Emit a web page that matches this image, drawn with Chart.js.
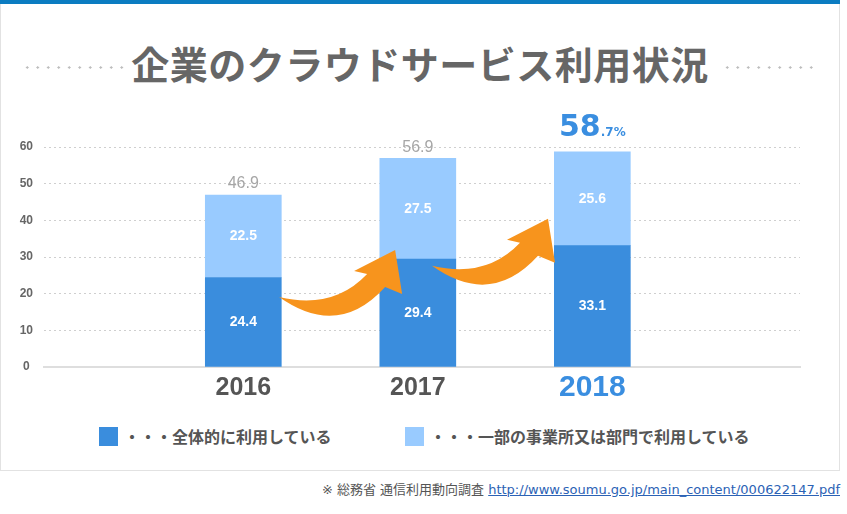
<!DOCTYPE html>
<html lang="ja">
<head>
<meta charset="utf-8">
<title>企業のクラウドサービス利用状況</title>
<script src="https://cdn.jsdelivr.net/npm/chart.js@4.4.1/dist/chart.umd.min.js"></script>
<style>
  body { margin: 0; background: #fff; font-family: "Noto Sans CJK JP", sans-serif; }
  #wrap { position: relative; width: 840px; height: 514px; }
  .topbar { height: 4px; background: #0b7cc1; }
  .panel { position: relative; height: 466px; border: 1px solid #e2e2e2; border-top: none; }
  .title { position: absolute; left: 0; right: 0; top: 40px; margin: 0; text-align: center;
           font-size: 38px; line-height: 38px; font-weight: bold; color: #666; letter-spacing: 0.5px; }
  .dots { position: absolute; top: 62px; height: 3px;
          background-image: radial-gradient(circle, #bdbdbd 1px, transparent 1.4px);
          background-size: 10.5px 3px; }
  #chartBox { position: absolute; left: 0; top: 96px; width: 838px; height: 310px; }
  .legend-item { position: absolute; top: 423px; display: flex; align-items: center;
                 font-size: 16px; line-height: 19px; font-weight: bold; color: #555; }
  .legend-item i { display: block; width: 19px; height: 19px; margin-right: 6px; }
  .note { position: absolute; right: 0; top: 481px; margin: 0; font-size: 13px; line-height: 18px;
          color: #555; font-family: "DejaVu Sans", "Noto Sans CJK JP", sans-serif; white-space: nowrap; }
  .note a { color: #2b62b5; text-decoration: underline; }
</style>
</head>
<body>
<div id="wrap">
  <div class="topbar"></div>
  <div class="panel">
    <div class="dots" style="left:21px; width:102px;"></div>
    <h1 class="title">企業のクラウドサービス利用状況</h1>
    <div class="dots" style="left:721px; width:98px;"></div>
    <div id="chartBox"><canvas id="chart" width="838" height="310"></canvas></div>
    <div class="legend-item" style="left:98px;"><i id="lg0"></i><span id="lt0"></span></div>
    <div class="legend-item" style="left:404px;"><i id="lg1"></i><span id="lt1"></span></div>
  </div>
  <p class="note">※ 総務省 通信利用動向調査 <a href="#">http://www.soumu.go.jp/main_content/000622147.pdf</a></p>
</div>
<script>
// データ（%）
const years = [2016, 2017, 2018];
const zentai = [24.4, 29.4, 33.1];   // 全体的に利用している
const ichibu = [22.5, 27.5, 25.6];   // 一部の事業所又は部門で利用している
const seriesNames = ['・・・全体的に利用している', '・・・一部の事業所又は部門で利用している'];
const colores = ['#3a8ddd', '#99cbff'];

// 凡例 (HTML)
seriesNames.forEach((name, i) => {
  document.getElementById('lg' + i).style.background = colores[i];
  document.getElementById('lt' + i).textContent = name;
});

// オレンジの矢印
const arrowPlugin = {
  id: 'arrows',
  afterDatasetsDraw(chart, args, opts) {
    const { ctx, scales: { x, y } } = chart;
    ctx.save();
    ctx.fillStyle = opts.color;
    opts.tips.forEach(t => {
      const px = x.getPixelForValue(t.x);
      const py = y.getPixelForValue(t.y);
      ctx.beginPath();
      ctx.moveTo(px, py);
      ctx.lineTo(px - 41, py + 21);
      ctx.lineTo(px - 28, py + 24);
      ctx.quadraticCurveTo(px - 62, py + 60, px - 116, py + 47);
      ctx.quadraticCurveTo(px - 57, py + 89, px - 10, py + 37);
      ctx.lineTo(px + 7, py + 44);
      ctx.closePath();
      ctx.fill();
    });
    ctx.restore();
  }
};

// 棒の中の数値と合計
const labelPlugin = {
  id: 'barLabels',
  afterDatasetsDraw(chart) {
    const { ctx } = chart;
    ctx.save();
    ctx.textAlign = 'center';
    ctx.textBaseline = 'middle';
    ctx.fillStyle = '#fff';
    ctx.font = 'bold 14px "Liberation Sans", Arial, sans-serif';
    chart.data.datasets.forEach((ds, di) => {
      chart.getDatasetMeta(di).data.forEach((bar, i) => {
        ctx.fillText(ds.data[i].y.toFixed(1), bar.x, (bar.y + bar.base) / 2);
      });
    });

    const tops = chart.getDatasetMeta(1).data;
    years.forEach((yr, i) => {
      const total = (zentai[i] + ichibu[i]).toFixed(1);
      const bx = tops[i].x, by = tops[i].y;
      if (i === years.length - 1) {
        const [ent, dec] = total.split('.');
        const big = 'bold 30px "DejaVu Sans", sans-serif';
        const small = 'bold 12px "DejaVu Sans", sans-serif';
        ctx.font = big;
        const w1 = ctx.measureText(ent).width;
        ctx.font = small;
        const w2 = ctx.measureText('.' + dec + '%').width;
        const x0 = bx - (w1 + w2) / 2;
        ctx.textAlign = 'left';
        ctx.textBaseline = 'alphabetic';
        ctx.fillStyle = '#3a8ee0';
        ctx.font = big;
        ctx.fillText(ent, x0, by - 16);
        ctx.font = small;
        ctx.fillText('.' + dec + '%', x0 + w1, by - 16);
      } else {
        ctx.textAlign = 'center';
        ctx.textBaseline = 'middle';
        ctx.fillStyle = '#a6a6a6';
        ctx.font = '16px "Liberation Sans", Arial, sans-serif';
        ctx.fillText(total, bx, by - 11);
      }
    });
    ctx.restore();
  }
};

const ctx = document.getElementById('chart').getContext('2d');
new Chart(ctx, {
  type: 'bar',
  data: {
    datasets: [
      { label: seriesNames[0], data: years.map((yr, i) => ({ x: yr, y: zentai[i] })), backgroundColor: colores[0], barThickness: 76 },
      { label: seriesNames[1], data: years.map((yr, i) => ({ x: yr, y: ichibu[i] })), backgroundColor: colores[1], barThickness: 76 }
    ]
  },
  options: {
    responsive: false,
    animation: false,
    layout: { padding: { top: 47, right: 39, left: 0, bottom: 0 } },
    plugins: {
      legend: { display: false },
      tooltip: { enabled: false },
      arrows: {
        color: '#f7941d',
        tips: [{ x: 2016.87, y: 31.9 }, { x: 2017.746, y: 40.4 }]
      }
    },
    scales: {
      x: {
        type: 'linear',
        stacked: true,
        offset: false,
        min: 2014.858,
        max: 2019.19,
        afterBuildTicks: s => { s.ticks = years.map(v => ({ value: v })); },
        afterFit: s => { s.height = 43; },
        grid: { display: false, drawTicks: false, offset: false },
        border: { display: true, color: '#dedede', width: 2 },
        ticks: {
          padding: 6.5,
          autoSkip: false,
          maxRotation: 0,
          callback: v => String(v),
          color: c => c.index === years.length - 1 ? '#3a8ee0' : '#555',
          font: c => c.index === years.length - 1
            ? { family: '"Liberation Sans", Arial, sans-serif', size: 30, weight: 'bold', lineHeight: 0.95 }
            : { family: '"Liberation Sans", Arial, sans-serif', size: 25, weight: 'bold', lineHeight: 1.2 }
        }
      },
      y: {
        stacked: true,
        min: 0,
        max: 60,
        afterFit: s => { s.width = 43; },
        grid: { color: c => c.tick && c.tick.value === 0 ? 'rgba(0,0,0,0)' : '#cfcfcf', drawTicks: false },
        border: { display: false, dash: [2, 3] },
        ticks: {
          stepSize: 10,
          padding: 11,
          crossAlign: 'center',
          color: '#666',
          font: { family: '"Liberation Sans", Arial, sans-serif', size: 12, weight: 'bold' }
        }
      }
    }
  },
  plugins: [arrowPlugin, labelPlugin]
});
</script>
</body>
</html>
